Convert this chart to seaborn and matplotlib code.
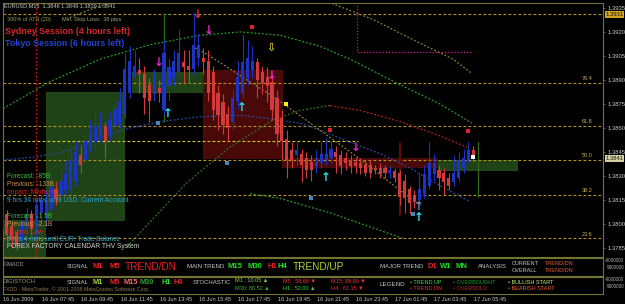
import matplotlib
matplotlib.use("Agg")
import matplotlib.pyplot as plt
import matplotlib.transforms as mtransforms
from matplotlib.patches import Rectangle
import numpy as np
import pandas as pd
import seaborn as sns

W, H = 625, 304

# ---------------- data ----------------
symbol = "EURUSD,M15"
bar_index = list(range(97))
open_ = [1.3796, 1.3806, 1.3799, 1.3795, 1.3790, 1.3797, 1.3806, 1.3796, 1.3807, 1.3804,
         1.3809, 1.3822, 1.3818, 1.3821, 1.3821, 1.3827, 1.3843, 1.3840, 1.3847, 1.3851,
         1.3854, 1.3861, 1.3857, 1.3861, 1.3863, 1.3869, 1.3882, 1.3892, 1.3896, 1.3894,
         1.3887, 1.3881, 1.3885, 1.3871, 1.3886, 1.3891, 1.3895, 1.3901, 1.3899, 1.3897,
         1.3904, 1.3904, 1.3902, 1.3895, 1.3882, 1.3876, 1.3869, 1.3864, 1.3877, 1.3882,
         1.3891, 1.3896, 1.3901, 1.3895, 1.3892, 1.3889, 1.3879, 1.3866, 1.3853, 1.3846,
         1.3843, 1.3844, 1.3841, 1.3839, 1.3836, 1.3838, 1.3840, 1.3841, 1.3845, 1.3843,
         1.3841, 1.3840, 1.3839, 1.3838, 1.3837, 1.3837, 1.3835, 1.3835, 1.3835, 1.3832,
         1.3833, 1.3832, 1.3827, 1.3822, 1.3818, 1.3815, 1.3819, 1.3824, 1.3831, 1.3834,
         1.3832, 1.3829, 1.3826, 1.3829, 1.3835, 1.3840, 1.3846]
close = [1.3815, 1.3793, 1.3790, 1.3787, 1.3799, 1.3806, 1.3797, 1.3812, 1.3815, 1.3815,
         1.3823, 1.3816, 1.3827, 1.3831, 1.3840, 1.3845, 1.3837, 1.3852, 1.3857, 1.3861,
         1.3863, 1.3852, 1.3865, 1.3872, 1.3877, 1.3897, 1.3902, 1.3899, 1.3894, 1.3879,
         1.3877, 1.3893, 1.3882, 1.3907, 1.3898, 1.3902, 1.3907, 1.3898, 1.3896, 1.3912,
         1.3912, 1.3901, 1.3882, 1.3871, 1.3868, 1.3862, 1.3860, 1.3879, 1.3892, 1.3901,
         1.3904, 1.3902, 1.3890, 1.3888, 1.3886, 1.3871, 1.3856, 1.3852, 1.3840, 1.3840,
         1.3846, 1.3837, 1.3834, 1.3834, 1.3841, 1.3844, 1.3844, 1.3847, 1.3842, 1.3836,
         1.3838, 1.3836, 1.3836, 1.3835, 1.3832, 1.3832, 1.3834, 1.3831, 1.3832, 1.3834,
         1.3829, 1.3817, 1.3816, 1.3813, 1.3814, 1.3822, 1.3831, 1.3838, 1.3838, 1.3829,
         1.3826, 1.3824, 1.3832, 1.3840, 1.3841, 1.3846, 1.3841]
high = [1.3822, 1.3809, 1.3802, 1.3797, 1.3802, 1.3810, 1.3809, 1.3815, 1.3818, 1.3821,
        1.3831, 1.3827, 1.3835, 1.3840, 1.3846, 1.3852, 1.3849, 1.3859, 1.3865, 1.3871,
        1.3870, 1.3864, 1.3870, 1.3877, 1.3885, 1.3907, 1.3911, 1.3909, 1.3904, 1.3899,
        1.3891, 1.3897, 1.3890, 1.3915, 1.3904, 1.3909, 1.3921, 1.3909, 1.3909, 1.3932,
        1.3919, 1.3910, 1.3909, 1.3899, 1.3887, 1.3881, 1.3874, 1.3884, 1.3902, 1.3919,
        1.3915, 1.3911, 1.3904, 1.3899, 1.3898, 1.3893, 1.3884, 1.3871, 1.3859, 1.3851,
        1.3852, 1.3847, 1.3845, 1.3843, 1.3846, 1.3851, 1.3854, 1.3852, 1.3849, 1.3846,
        1.3845, 1.3843, 1.3842, 1.3841, 1.3840, 1.3840, 1.3837, 1.3838, 1.3837, 1.3836,
        1.3835, 1.3834, 1.3831, 1.3824, 1.3821, 1.3832, 1.3837, 1.3851, 1.3844, 1.3837,
        1.3835, 1.3832, 1.3843, 1.3845, 1.3847, 1.3851, 1.3849]
low = [1.3793, 1.3789, 1.3785, 1.3784, 1.3787, 1.3793, 1.3793, 1.3791, 1.3802, 1.3799,
       1.3806, 1.3812, 1.3814, 1.3818, 1.3818, 1.3824, 1.3832, 1.3837, 1.3845, 1.3846,
       1.3851, 1.3841, 1.3852, 1.3857, 1.3860, 1.3866, 1.3879, 1.3889, 1.3882, 1.3869,
       1.3864, 1.3877, 1.3876, 1.3868, 1.3877, 1.3887, 1.3891, 1.3888, 1.3888, 1.3893,
       1.3899, 1.3894, 1.3877, 1.3865, 1.3859, 1.3856, 1.3852, 1.3859, 1.3872, 1.3879,
       1.3887, 1.3891, 1.3879, 1.3881, 1.3876, 1.3865, 1.3849, 1.3840, 1.3829, 1.3835,
       1.3837, 1.3826, 1.3829, 1.3827, 1.3832, 1.3835, 1.3837, 1.3838, 1.3832, 1.3831,
       1.3834, 1.3832, 1.3832, 1.3831, 1.3830, 1.3829, 1.3831, 1.3829, 1.3829, 1.3829,
       1.3826, 1.3812, 1.3807, 1.3806, 1.3810, 1.3812, 1.3816, 1.3822, 1.3827, 1.3821,
       1.3818, 1.3821, 1.3824, 1.3827, 1.3832, 1.3838, 1.3839]

time_tick_idx = [0, 8, 16, 24, 32, 40, 48, 56, 64, 72, 80, 88, 96]
time_tick_labels = ["16 Jun 2009", "16 Jun 07:45", "16 Jun 09:45", "16 Jun 11:45",
                    "16 Jun 13:45", "16 Jun 15:45", "16 Jun 17:45", "16 Jun 19:45",
                    "16 Jun 21:45", "16 Jun 23:45", "17 Jun 01:45", "17 Jun 03:45",
                    "17 Jun 05:45"]
price_ticks = [1.3785, 1.3800, 1.3815, 1.3830, 1.3845, 1.3860, 1.3875, 1.3890,
               1.3905, 1.3920, 1.3935]

fib_prices = [1.3791, 1.3818, 1.3840, 1.3861, 1.3888, 1.3931]
fib_labels = ["23.6", "38.2", "50.0", "61.8", "76.4", ""]
pivot_line_price = 1.3852
pivot_line_end = 72.5

# curves (bar index, price)
env_up_x = [-0.4, 9.8, 20.0, 30.1, 40.3, 48.5, 56.6, 64.8, 70.9, 81.1, 89.2, 95.7]
env_up_y = [1.3871, 1.3889, 1.3903, 1.3912, 1.3918, 1.3920, 1.3918, 1.3911, 1.3903, 1.3887, 1.3875, 1.3863]
env_lo_x = [50.5, 56.6, 66.8, 77.0, 81.7]
env_lo_y = [1.3819, 1.3816, 1.3807, 1.3796, 1.3791]
ma_up_x = [25.5, 32.2, 37.7, 46.4, 55.2, 60.7, 66.8]
ma_up_y = [1.3786, 1.3808, 1.3826, 1.3848, 1.3865, 1.3871, 1.3874]
ma_dn_x = [66.8, 72.9, 81.1, 89.2, 94.7]
ma_dn_y = [1.3874, 1.3871, 1.3864, 1.3855, 1.3848]
ma_blue_x = [0.2, 7.1, 13.8, 20.0, 26.1, 32.2, 40.3, 48.5, 54.0, 60.7, 65.4, 70.9, 77.0, 83.1, 89.2, 95.3]
ma_blue_y = [1.3840, 1.3842, 1.3846, 1.3854, 1.3860, 1.3864, 1.3867, 1.3868, 1.3866, 1.3863,
             1.3858, 1.3851, 1.3844, 1.3835, 1.3824, 1.3814]
chan_a1_x = [13.8, 17.9, 22.0, 25.1]
chan_a1_y = [1.3929, 1.3934, 1.3938, 1.3943]
chan_a2_x = [64.4, 65.4, 75.4, 85.1, 91.9, 95.7]
chan_a2_y = [1.3942, 1.3940, 1.3928, 1.3913, 1.3903, 1.3894]
chan_b_x = [39.3, 41.8, 56.0, 72.3, 81.1, 85.1]
chan_b_y = [1.3910, 1.3906, 1.3878, 1.3842, 1.3821, 1.3812]

# zones (x0, x1, y0, y1)
green_zones = [(8.96, 24.85, 1.38025, 1.38825), (26.5, 40.9, 1.38825, 1.3895),
               (88.8, 104.9, 1.38338, 1.3840), (-0.4, 8.76, 1.3779, 1.38025)]
red_zones = [(40.9, 57.0, 1.38413, 1.38963), (57.0, 88.6, 1.38356, 1.38413)]

# signals
red_dn_x, red_dn_y = [39.9], [1.3931]
mag_dn_x = [42.0, 32.0, 55.0, 72.1]
mag_dn_y = [1.3921, 1.3901, 1.3893, 1.3848]
yel_dn_x, yel_dn_y = [54.8], [1.3910]
cyan_up_x = [33.8, 48.9, 66.0, 84.9]
cyan_up_y = [1.3869, 1.3873, 1.3829, 1.3804]
steel_up_x, steel_up_y = [84.9], [1.3811]
red_dot_x = [50.9, 66.8, 94.9]
red_dot_y = [1.3923, 1.3859, 1.3858]
blue_dot_x = [31.8, 45.8, 62.9, 83.7]
blue_dot_y = [1.3863, 1.3838, 1.3816, 1.3806]
yel_dot_x, yel_dot_y = [57.8], [1.3875]
white_dot_x, white_dot_y = [95.9], [1.3842]

stoch_tf = ["M1", "M5", "M15", "M30", "H1", "H4"]
stoch_val = [10.05, 58.68, 88.90, 86.52, 52.00, 61.15]
stoch_dir = ["▲", "▼", "▼", "▲", "▲", "▼"]

# ---------------- style ----------------
sns.set_theme(style="dark", rc={"axes.facecolor": "black", "figure.facecolor": "black",
                                "savefig.facecolor": "black", "axes.grid": False})
plt.rcParams["font.family"] = ["Liberation Sans", "DejaVu Sans"]

OLIVE = "#747432"
BLUE = "#1c34c4"
RED = "#d23a3a"
GRAY = "#c8c8c8"

fig = plt.figure(figsize=(W / 100, H / 100), dpi=100)

def fx(x):
    return x / W

def fy(y):
    return 1 - y / H

def ftext(x, y, s, color, size, weight="normal", ha="left"):
    fig.text(fx(x), fy(y), s, color=color, fontsize=size, fontweight=weight,
             ha=ha, va="center")

ax = fig.add_axes([fx(3), fy(257), 600 / W, 254 / H])
ax.set_facecolor("black")
ax.set_xlim(0.2, 122.4)
ax.set_ylim(1.37794, 1.39381)

# zones
for x0, x1, y0, y1 in green_zones:
    ax.add_patch(Rectangle((x0, y0), x1 - x0, y1 - y0, facecolor="#1f4216",
                           edgecolor="#2c5a1e", linewidth=0.5, zorder=1))
for x0, x1, y0, y1 in red_zones:
    ax.add_patch(Rectangle((x0, y0), x1 - x0, y1 - y0, facecolor="#4a0909",
                           edgecolor="#5a1010", linewidth=0.5, zorder=1))

# fib lines
for p, lab in zip(fib_prices, fib_labels):
    ax.axhline(p, color="#b8961e", linewidth=0.8, linestyle=(0, (2.5, 2)), zorder=2)
    if lab:
        ax.text(120.3, p + 0.00012, lab, color="#c8b060", fontsize=4.0,
                ha="right", va="bottom", zorder=6)
ax.plot([0, pivot_line_end], [pivot_line_price, pivot_line_price], color="#d8d030",
        linewidth=0.8, linestyle=(0, (2.5, 2)), zorder=2)

# vertical markers
ax.axvline(6.9, color="#c81010", linewidth=0.9, linestyle=(0, (1.5, 1.5)), zorder=2)
ax.plot([33.0, 33.0], [1.3931, 1.3864], color="#2e6a1a", linewidth=0.9, zorder=2)
ax.plot([96.9, 96.9], [1.38513, 1.38169], color="#2e6a1a", linewidth=0.9, zorder=2)
ax.plot([81.1, 81.1], [1.38506, 1.38056], color="#5a0c0c", linewidth=1.6, zorder=2)
ax.plot([72.3, 72.3, 95.9], [1.3942, 1.39075, 1.39075], color="#c81a8a",
        linewidth=0.9, linestyle=(0, (1, 1.5)), zorder=2)

# curves
curve_specs = [
    (env_up_x, env_up_y, "#2a9a2a"), (env_lo_x, env_lo_y, "#2a9a2a"),
    (ma_up_x, ma_up_y, "#2f7a22"), (ma_dn_x, ma_dn_y, "#b82020"),
    (ma_blue_x, ma_blue_y, "#2a4aa8"),
    (chan_a1_x, chan_a1_y, "#8a8030"), (chan_a2_x, chan_a2_y, "#8a8030"),
    (chan_b_x, chan_b_y, "#8a8030"),
]
for cx, cy, col in curve_specs:
    sns.lineplot(x=cx, y=cy, ax=ax, color=col, linewidth=0.9, sort=False,
                 estimator=None, linestyle=(0, (1.5, 1.5)), zorder=3)

# candles
df = pd.DataFrame({"idx": bar_index, "open": open_, "high": high, "low": low, "close": close})
bull = df["close"] >= df["open"]
cols = np.where(bull, BLUE, RED)
ax.vlines(df["idx"], df["low"], df["high"], colors=cols, linewidth=0.8, zorder=4)
body_low = df[["open", "close"]].min(axis=1)
body_h = (df["close"] - df["open"]).abs().clip(lower=0.00006)
ax.bar(df["idx"], body_h, bottom=body_low, width=0.64, color=cols, linewidth=0, zorder=5)

# arrows
def arrows(xs, ys, glyph, color, size=8.5):
    for x, y in zip(xs, ys):
        ax.text(x, y, glyph, color=color, fontsize=size, fontweight="bold",
                ha="center", va="center", family="DejaVu Sans", zorder=7)

arrows(red_dn_x, red_dn_y, "↓", "#e83030")
arrows(mag_dn_x, mag_dn_y, "↓", "#e826c8")
arrows(yel_dn_x, yel_dn_y, "⇩", "#d8c020", size=8)
arrows(cyan_up_x, cyan_up_y, "↑", "#20e4f0")
arrows(steel_up_x, steel_up_y, "↑", "#5a8ac8")

sns.scatterplot(x=red_dot_x, y=red_dot_y, ax=ax, color="#e02030", s=6, marker="s",
                linewidth=0, zorder=7)
sns.scatterplot(x=blue_dot_x, y=blue_dot_y, ax=ax, color="#4a82c0", s=6, marker="s",
                linewidth=0, zorder=7)
sns.scatterplot(x=yel_dot_x, y=yel_dot_y, ax=ax, color="#f0f020", s=9, marker="s",
                linewidth=0, zorder=7)
sns.scatterplot(x=white_dot_x, y=white_dot_y, ax=ax, color="white", s=9, marker="s",
                linewidth=0, zorder=7)

# axis styling
ax.yaxis.tick_right()
ax.set_yticks(price_ticks)
ax.set_yticklabels([f"{p:.4f}" for p in price_ticks])
ax.tick_params(axis="y", colors=OLIVE, labelcolor=GRAY, labelsize=4.2, length=1.5,
               width=0.6, pad=1.5, right=True, left=False)
ax.tick_params(axis="x", bottom=False, labelbottom=False)
ax.set_xlabel("")
ax.set_ylabel("")
for s in ax.spines.values():
    s.set_color(OLIVE)
    s.set_linewidth(0.8)

# highlighted price labels
trans = mtransforms.blended_transform_factory(ax.transAxes, ax.transData)
ax.text(1.004, fib_prices[-1], f"{fib_prices[-1]:.4f}", transform=trans, fontsize=4.2,
        color="#1a1a00", ha="left", va="center", clip_on=False, zorder=8,
        bbox=dict(boxstyle="square,pad=0.15", facecolor="#d0a224", edgecolor="none"))
ax.text(1.004, close[-1], f"{close[-1]:.4f}", transform=trans, fontsize=4.2,
        color="#1a1a00", ha="left", va="center", clip_on=False, zorder=8,
        bbox=dict(boxstyle="square,pad=0.15", facecolor="#d4d0a4", edgecolor="none"))

# ---------------- lower panels ----------------
p1 = fig.add_axes([fx(3), fy(276), 600 / W, 18 / H])
p2 = fig.add_axes([fx(3), fy(294), 600 / W, 17 / H])
for p in (p1, p2):
    p.set_facecolor("black")
    p.set_xlim(0.2, 122.4)
    p.set_yticks([])
    for s in p.spines.values():
        s.set_color(OLIVE)
        s.set_linewidth(0.8)
p1.set_xticks([])
p2.set_xticks(time_tick_idx)
p2.set_xticklabels(time_tick_labels, ha="left")
p2.tick_params(axis="x", colors=OLIVE, labelcolor=GRAY, labelsize=4.0, length=1.5,
               width=0.6, pad=1.0)

# ---------------- texts ----------------
ftext(4, 5.5, f"{symbol}  {open_[-1]:.4f} {high[-1]:.4f} {low[-1]:.4f} {close[-1]:.4f}",
      "#c8c8c8", 4.0)
ftext(7, 20, "300% of ATR (20)", "#8f9a4c", 4.0)
ftext(62, 20, "Min. Stop Loss:  38 pips", "#a8a27a", 4.0)
ftext(5, 32, "Sydney Session (4 hours left)", "#d42828", 6.4, "bold")
ftext(5, 44, "Tokyo Session (6 hours left)", "#2442cc", 6.4, "bold")

news = [("Forecast: -85B", "#30c030", 177), ("Previous: -133B", "#c89050", 185),
        ("Impact: Medium", "#e02020", 193), ("9 hrs 34 mins until USD: Current Account", "#30a8d0", 200),
        ("Forecast: -1.5B", "#30c030", 217), ("Previous: -2.1B", "#c89050", 224.5),
        ("Impact: Low", "#e02020", 232), ("6 hrs 4 mins until EUR: Trade Balance", "#30a8d0", 239.5),
        ("FOREX FACTORY CALENDAR THV System", "#d0d0d0", 247)]
for s, c, y in news:
    ftext(7, y, s, c, 4.8)

# panel 1
ftext(4, 265, "GMACD", "#a0a0a0", 4.0)
ftext(67, 266, "SIGNAL", GRAY, 4.3)
ftext(93, 266.5, "M1", "#f02020", 5.5, "bold")
ftext(110, 266.5, "M5", "#f02020", 5.5, "bold")
ftext(125, 267, "TREND/DN", "#f02020", 7.2)
ftext(187, 266, "MAIN TREND", GRAY, 4.3)
ftext(228, 266.5, "M15", "#22e022", 5.5, "bold")
ftext(248, 266.5, "M30", "#22e022", 5.5, "bold")
ftext(267, 266.5, "H1", "#f02020", 5.5, "bold")
ftext(278, 266.5, "H4", "#22e022", 5.5, "bold")
ftext(293, 267, "TREND/UP", "#b0d830", 7.2)
ftext(380, 266, "MAJOR TREND", GRAY, 4.3)
ftext(428, 266.5, "D1", "#f02020", 5.5, "bold")
ftext(440, 266.5, "W1", "#22e022", 5.5, "bold")
ftext(456, 266.5, "MN", "#22e022", 5.5, "bold")
ftext(478, 266, "ANALYSIS", GRAY, 4.3)
ftext(512, 263.5, "CURRENT", GRAY, 4.0)
ftext(512, 270, "OVERALL", GRAY, 4.0)
ftext(545, 263.5, "TREND/DN", "#e0603c", 4.0)
ftext(545, 270, "TREND/DN", "#e0603c", 4.0)

# panel 2
ftext(3, 281.5, "DIGISTOCH", "#a09070", 4.3)
ftext(3, 289.5, "FXDD - MetaTrader, © 2001-2008 MetaQuotes Software Corp.", "#8a7a50", 3.8)
ftext(67, 283, "SIGNAL", GRAY, 4.3)
for s, x, c in [("M1", 93, "#a8d830"), ("M5", 110, "#f02020"), ("M15", 124, "#f07070"),
                ("M30", 140, "#30a030"), ("H1", 161, "#30e030"), ("H4", 173, "#f02020")]:
    ftext(x, 282.5, s, c, 5.3, "bold")
ftext(193, 283, "STOCHASTIC", GRAY, 4.3)
stoch_pos = {"M1": (235, 281, "#90c850"), "M30": (235, 288, "#40b040"),
             "M5": (283, 281, "#f03030"), "H1": (283, 288, "#30e030"),
             "M15": (331, 281, "#f03030"), "H4": (331, 288, "#f03030")}
for tf, v, d in zip(stoch_tf, stoch_val, stoch_dir):
    x, y, c = stoch_pos[tf]
    lab = f"{tf}: {v:.2f} {d}" if len(tf) == 3 else f"{tf} : {v:.2f} {d}"
    ftext(x, y, lab, c, 4.0)
ftext(380, 284, "LEGEND", GRAY, 4.5)
ftext(410, 282, "• TREND UP", "#40e040", 4.0)
ftext(410, 289, "• TREND DN", "#f03030", 4.0)
ftext(453, 282, "• OVERBOUGHT", "#22a022", 4.0)
ftext(453, 289, "• OVERSOLD", "#c02828", 4.0)
ftext(508, 282, "• BULLISH START", "#c8e878", 4.0)
ftext(508, 289, "• BEARISH START", "#f06040", 4.0)
for y, s in [(260.5, "-9000000"), (267.5, "9000000"), (279.5, "-9000000"), (286.5, "9000000")]:
    ftext(624, y, s, "#b0b0b0", 3.3, ha="right")

fig.savefig("out.png", dpi=100, facecolor="black")
